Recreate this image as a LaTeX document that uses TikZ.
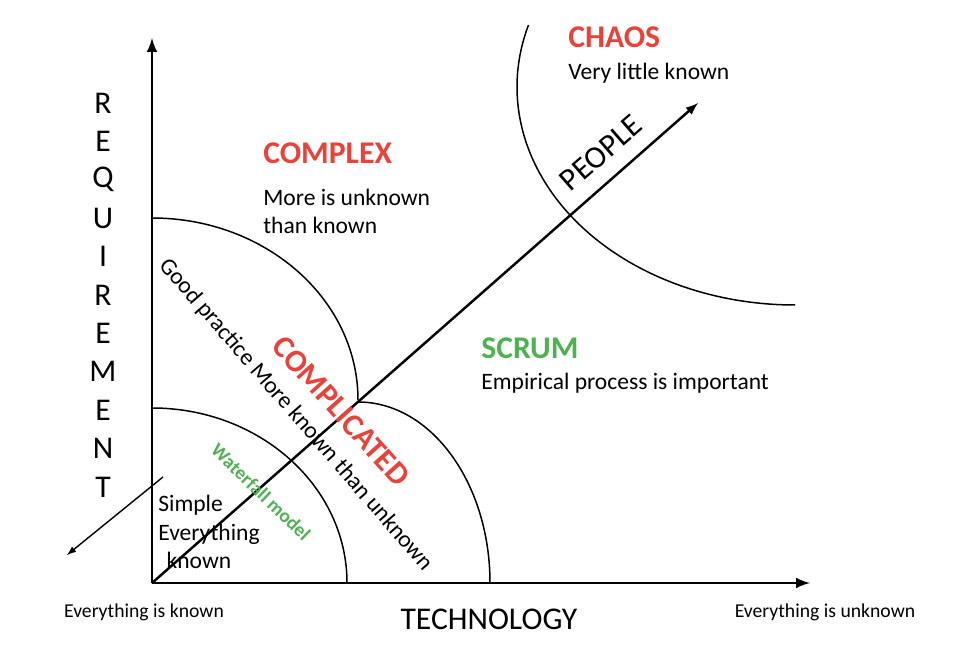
\documentclass[tikz,border=0pt]{standalone}
\usepackage{fontspec}
\setmainfont{Carlito}
\usetikzlibrary{arrows}
\definecolor{chaosred}{HTML}{E8433A}
\definecolor{scrumgreen}{HTML}{4FB152}

\begin{document}
\begin{tikzpicture}[x=0.02cm, y=0.02cm]
\tikzset{
  axis/.style={line width=1.7pt, -latex},
  arcline/.style={line width=0.85pt},
  title/.style={font=\fontsize{18}{20}\selectfont\bfseries, anchor=west, inner sep=0pt},
  body/.style={font=\fontsize{13.4}{16.4}\selectfont, anchor=west, align=left, inner sep=0pt},
  big/.style={font=\fontsize{18}{20}\selectfont, inner sep=0pt},
  small/.style={font=\fontsize{11.2}{13}\selectfont, inner sep=0pt}
}
\useasboundingbox (-152,-82) rectangle (811,583);

% Axes
\coordinate (origin) at (0,0);
\coordinate (reqtop) at (0,545);
\coordinate (techend) at (658,0);
\coordinate (peopleend) at (546,480);
\coordinate (backstart) at (11,106);
\coordinate (backend) at (-85,28);
\draw[axis] (origin) -- (reqtop);
\draw[axis] (origin) -- (techend);
\draw[line width=1.4pt, -latex] (origin) -- (peopleend);
\draw[line width=0.8pt, -latex] (backstart) -- (backend);

% Arcs
\draw[arcline] (0,175) arc[start angle=90, end angle=0, x radius=195, y radius=175];
\draw[arcline] (0,365) arc[start angle=90, end angle=0, x radius=206, y radius=182];
\draw[arcline] (206,181) arc[start angle=90, end angle=0, x radius=132, y radius=181];
\coordinate (chaoscentre) at (643,496);
\draw[arcline] (chaoscentre) ++(163.5:278 and 218) arc[start angle=163.5, end angle=270, x radius=278, y radius=218];

% Text
\node[title, text=chaosred] (chaos) at (416,546) {CHAOS};
\node[body] (chaostext) at (416,510) {Very little known};
\node[big, rotate=41] (people) at (449,430) {PEOPLE};

\node[title, text=chaosred] (complex) at (111,430) {COMPLEX};
\node[body] (complextext) at (111,371.5) {More is unknown\\than known};

\node[title, text=scrumgreen] (scrum) at (329,235) {SCRUM};
\node[body] (scrumtext) at (329,200) {Empirical process is important};

\node[big, font=\fontsize{18}{20}\selectfont\bfseries, text=chaosred, rotate=-48] (complicated) at (189,172) {COMPLICATED};
\node[font=\fontsize{13.4}{16}\selectfont, inner sep=0pt, rotate=-49] (goodpractice) at (144,168) {Good practice More known than unknown};
\node[font=\fontsize{11}{13}\selectfont\bfseries, text=scrumgreen, inner sep=0pt, rotate=-44] (waterfall) at (109,91) {Waterfall model};
\node[body] (simple) at (6,51) {Simple\\Everything\\\hspace{0.35em}known};

% Axis labels
\foreach \letter [count=\i from 0] in {R,E,Q,U,I,R,E,M,E,N,T}
  \node[big] (req\i) at (-49,480-38.4*\i) {\letter};
\node[big] (technology) at (337,-36) {TECHNOLOGY};
\node[small] (allknown) at (-8,-29) {Everything is known};
\node[small] (allunknown) at (673,-29) {Everything is unknown};
\end{tikzpicture}
\end{document}
